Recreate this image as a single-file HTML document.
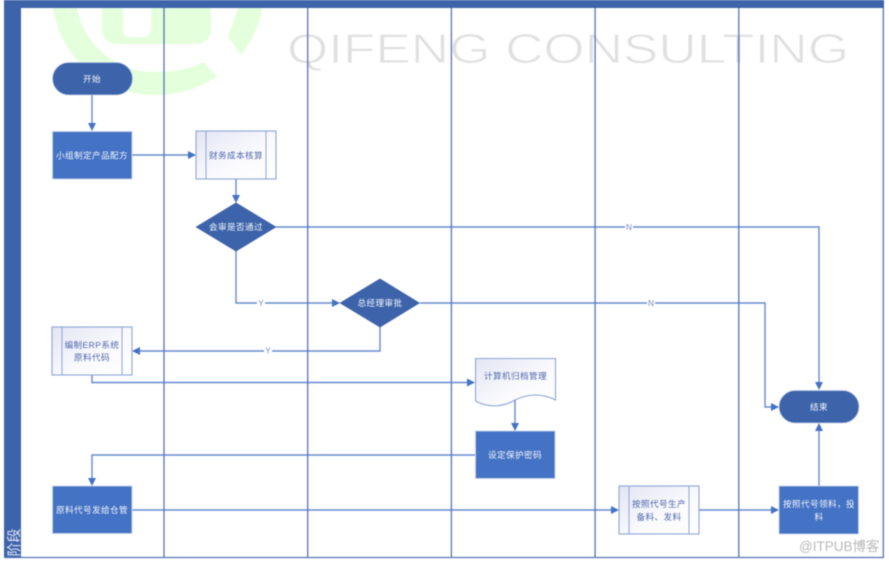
<!DOCTYPE html>
<html><head><meta charset="utf-8">
<style>
html,body{margin:0;padding:0;background:#fff;width:889px;height:561px;overflow:hidden}
svg{display:block;filter:blur(.4px)}
text{font-family:"Liberation Sans","Noto Sans CJK SC",sans-serif}
.w{fill:#f2f5fc;font-size:8.6px;letter-spacing:.4px;text-anchor:middle}
.d{fill:#4f66aa;font-size:8.6px;letter-spacing:.4px;text-anchor:middle}
.l{fill:none;stroke:#4a76c6;stroke-width:1.4;opacity:.85}
.a{fill:#4472c4}
.lane{stroke:#5476b6;stroke-width:1.3;fill:none}
.sub{fill:url(#g);stroke:#8ea6d6;stroke-width:1.1}
.rect{fill:#4472c4;stroke:#c5d2ea;stroke-width:1}
.dark{fill:#3d63aa;stroke:#c5d2ea;stroke-width:.8}
.dia{fill:#3d63aa}
.lb{fill:#7383c0;font-size:8px;text-anchor:middle}
</style></head><body>
<svg width="889" height="561" viewBox="0 0 889 561" xmlns="http://www.w3.org/2000/svg">
<defs><linearGradient id="g" x1="0" y1="0" x2="1" y2="1"><stop offset="0" stop-color="#e2e5f3"/><stop offset=".6" stop-color="#fbfbfe"/><stop offset="1" stop-color="#fff"/></linearGradient></defs>
<rect width="889" height="561" fill="#fff"/>

<!-- watermark -->
<g fill="#e4ffdc">
<path d="M53 8 C60 55 100 95 155 95 C180 95 201 88 217 76 L203 62 C190 69 173 72 155 72 C115 72 84 45 77 8 Z"/>
<path d="M238 8 L228 37 L241 55 C252 40 260 25 262 8 Z"/>
<path fill-rule="evenodd" d="M102 8 V28 Q102 44 118 44 H195 Q211 44 211 28 V8 Z M123 8 V30 Q123 37 130 37 H142 Q151 37 151 28 V8 Z"/>
</g>
<text x="287" y="63" font-size="42" fill="#e0e0e0" stroke="#fff" stroke-width=".9" textLength="562" lengthAdjust="spacingAndGlyphs">QIFENG CONSULTING</text>

<!-- swimlane frame -->
<rect x="4" y="0" width="17" height="557.500" fill="#3d63aa"/>
<rect x="4" y="0" width="880" height="8" fill="#3d63aa"/>
<path class="lane" d="M164 8V557.500M307.700 8V557.500M451.400 8V557.500M595.100 8V557.500M738.800 8V557.500M883.300 8V557.500M4 557.500H884"/>
<text transform="translate(19,556.500) rotate(-90)" font-size="14" fill="#e9eef8">阶段</text>

<!-- connectors -->
<path class="l" d="M92 95V124"/>
<path class="l" d="M132 155H189"/>
<path class="l" d="M236 179V196"/>
<path class="l" d="M276 227H819V383"/>
<path class="l" d="M236 251V303H333"/>
<path class="l" d="M420 303H765V407H772"/>
<path class="l" d="M380 327V351H139"/>
<path class="l" d="M92 375V382.500H468"/>
<path class="l" d="M515 400V424"/>
<path class="l" d="M475 455H92V479"/>
<path class="l" d="M132 510H612"/>
<path class="l" d="M699 510H772"/>
<path class="l" d="M819 486V430"/>
<g class="a">
<path d="M88 123H96L92 131Z"/>
<path d="M188 151V159L196 155Z"/>
<path d="M232 195H240L236 203Z"/>
<path d="M815 382H823L819 390Z"/>
<path d="M332 299V307L340 303Z"/>
<path d="M771 403V411L779 407Z"/>
<path d="M140 347V355L132 351Z"/>
<path d="M467 378.500V386.500L475 382.500Z"/>
<path d="M511 423H519L515 431Z"/>
<path d="M88 478H96L92 486Z"/>
<path d="M611 506V514L619 510Z"/>
<path d="M771 506V514L779 510Z"/>
<path d="M815 431H823L819 423Z"/>
</g>

<!-- connector labels -->
<rect x="257" y="298" width="8" height="10" fill="#fff"/><text class="lb" x="261" y="306">Y</text>
<rect x="264" y="345" width="8" height="10" fill="#fff"/><text class="lb" x="268" y="353.500">Y</text>
<rect x="625" y="222" width="8" height="10" fill="#fff"/><text class="lb" x="629" y="230">N</text>
<rect x="647" y="298" width="8" height="10" fill="#fff"/><text class="lb" x="651" y="306">N</text>

<!-- nodes -->
<rect class="dark" x="52.500" y="62.500" width="80" height="32.500" rx="16.250"/>
<text class="w" x="92" y="82">开始</text>

<rect class="rect" x="52.500" y="131.500" width="79.500" height="47.500"/>
<text class="w" x="92" y="158.500">小组制定产品配方</text>

<rect class="sub" x="196" y="131" width="80" height="48"/>
<path d="M206 131V179M266 131V179" stroke="#8ea6d6" fill="none"/>
<text class="d" x="236" y="158.500">财务成本核算</text>

<path class="dia" d="M195.500 227L236 202.500L276.500 227L236 251.500Z"/>
<text class="w" x="236" y="230">会审是否通过</text>

<path class="dia" d="M339.500 303L380 278.500L420 303L380 327.500Z"/>
<text class="w" x="380" y="306">总经理审批</text>

<rect class="sub" x="52" y="327" width="80" height="48"/>
<path d="M62 327V375M122 327V375" stroke="#8ea6d6" fill="none"/>
<text class="d" x="92" y="348">编制ERP系统</text>
<text class="d" x="92" y="360.500">原料代码</text>

<path class="sub" d="M475.500 358.500H555.500V400C540 392 525 395 515 400C505 406 490 409 475.500 401Z"/>
<text class="d" x="515.500" y="379">计算机归档管理</text>

<rect class="rect" x="475.500" y="431" width="79.500" height="47.500"/>
<text class="w" x="515" y="458">设定保护密码</text>

<rect class="rect" x="52.500" y="486" width="79.500" height="47.500"/>
<text class="w" x="92" y="513">原料代号发给仓管</text>

<rect class="sub" x="619" y="486" width="80" height="48"/>
<path d="M629 486V534M689 486V534" stroke="#8ea6d6" fill="none"/>
<text class="d" x="659" y="507">按照代号生产</text>
<text class="d" x="659" y="520">备料、发料</text>

<rect class="rect" x="779" y="486" width="79.500" height="48"/>
<text class="w" x="819" y="507">按照代号领料，投</text>
<text class="w" x="819" y="520">料</text>

<rect class="dark" x="779" y="390.500" width="80" height="32.500" rx="16.250"/>
<text class="w" x="819" y="410">结束</text>

<text x="799" y="551" font-size="13.500" fill="#b9b9b9">@ITPUB博客</text>
</svg>
</body></html>
